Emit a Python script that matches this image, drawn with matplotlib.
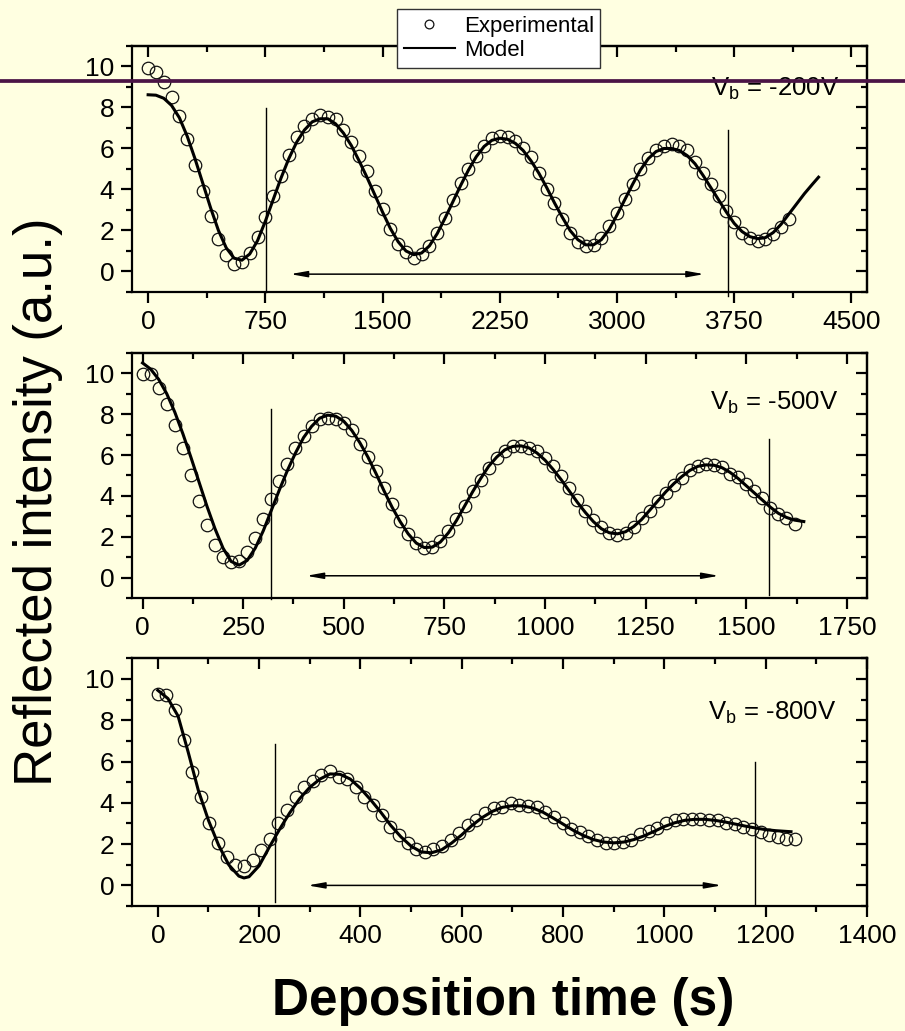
import matplotlib
matplotlib.use('Agg')
import matplotlib.pyplot as plt
from matplotlib.lines import Line2D
from matplotlib.ticker import MultipleLocator

# --- data ---
# panel 1, Vb = -200V
exp1_t = [0, 50, 100, 150, 200, 250, 300, 350, 400, 450, 500, 550, 600, 650, 700, 750, 800, 850, 900, 950,
          1000, 1050, 1100, 1150, 1200, 1250, 1300, 1350, 1400, 1450, 1500, 1550, 1600, 1650, 1700, 1750, 1800,
          1850, 1900, 1950, 2000, 2050, 2100, 2150, 2200, 2250, 2300, 2350, 2400, 2450, 2500, 2550, 2600, 2650,
          2700, 2750, 2800, 2850, 2900, 2950, 3000, 3050, 3100, 3150, 3200, 3250, 3300, 3350, 3400, 3450, 3500,
          3550, 3600, 3650, 3700, 3750, 3800, 3850, 3900, 3950, 4000, 4050, 4100]
exp1_y = [9.92, 9.73, 9.22, 8.51, 7.6, 6.48, 5.19, 3.95, 2.71, 1.57, 0.81, 0.36, 0.44, 0.92, 1.68, 2.67, 3.68,
          4.65, 5.7, 6.55, 7.08, 7.45, 7.65, 7.55, 7.45, 6.92, 6.3, 5.62, 4.89, 3.95, 3.03, 2.09, 1.36, 0.95,
          0.68, 0.84, 1.25, 1.9, 2.63, 3.47, 4.33, 4.98, 5.62, 6.11, 6.52, 6.63, 6.57, 6.35, 6.03, 5.59, 4.82,
          4.04, 3.32, 2.54, 1.9, 1.44, 1.25, 1.28, 1.65, 2.2, 2.87, 3.55, 4.29, 5.01, 5.54, 5.95, 6.14, 6.24,
          6.14, 5.95, 5.33, 4.82, 4.29, 3.68, 2.95, 2.41, 1.9, 1.65, 1.49, 1.57, 1.81, 2.17, 2.54]
mod1_t = [0, 50, 100, 150, 200, 250, 300, 350, 400, 450, 500, 550, 600, 650, 700, 750, 800, 850, 900, 950,
          1000, 1050, 1100, 1150, 1200, 1250, 1300, 1350, 1400, 1450, 1500, 1550, 1600, 1650, 1700, 1750, 1800,
          1850, 1900, 1950, 2000, 2050, 2100, 2150, 2200, 2250, 2300, 2350, 2400, 2450, 2500, 2550, 2600, 2650,
          2700, 2750, 2800, 2850, 2900, 2950, 3000, 3050, 3100, 3150, 3200, 3250, 3300, 3350, 3400, 3450, 3500,
          3550, 3600, 3650, 3700, 3750, 3800, 3850, 3900, 3950, 4000, 4050, 4100, 4150, 4200, 4250, 4290]
mod1_y = [8.62, 8.6, 8.45, 8.1, 7.5, 6.6, 5.5, 4.3, 3.1, 2.0, 1.15, 0.65, 0.55, 0.85, 1.5, 2.45, 3.5, 4.55,
          5.5, 6.3, 6.9, 7.3, 7.45, 7.45, 7.2, 6.75, 6.15, 5.4, 4.6, 3.75, 2.9, 2.1, 1.45, 1.0, 0.82, 0.9, 1.25,
          1.85, 2.6, 3.4, 4.2, 4.95, 5.6, 6.1, 6.4, 6.5, 6.45, 6.25, 5.9, 5.4, 4.8, 4.1, 3.35, 2.65, 2.0, 1.55,
          1.3, 1.3, 1.55, 2.05, 2.75, 3.5, 4.25, 4.95, 5.5, 5.85, 6.0, 6.0, 5.9, 5.65, 5.25, 4.7, 4.1, 3.5, 2.9,
          2.35, 1.95, 1.7, 1.6, 1.65, 1.9, 2.3, 2.8, 3.3, 3.8, 4.25, 4.6]

# panel 2, Vb = -500V
exp2_t = [0, 20, 40, 60, 80, 100, 120, 140, 160, 180, 200, 220, 240, 260, 280, 300, 320, 340, 360, 380, 400,
          420, 440, 460, 480, 500, 520, 540, 560, 580, 600, 620, 640, 660, 680, 700, 720, 740, 760, 780, 800,
          820, 840, 860, 880, 900, 920, 940, 960, 980, 1000, 1020, 1040, 1060, 1080, 1100, 1120, 1140, 1160,
          1180, 1200, 1220, 1240, 1260, 1280, 1300, 1320, 1340, 1360, 1380, 1400, 1420, 1440, 1460, 1480,
          1500, 1520, 1540, 1560, 1580, 1600, 1620]
exp2_y = [9.97, 9.97, 9.27, 8.51, 7.49, 6.35, 5.0, 3.75, 2.58, 1.59, 1.04, 0.75, 0.83, 1.24, 1.97, 2.86, 3.83,
          4.72, 5.57, 6.32, 6.95, 7.44, 7.76, 7.81, 7.76, 7.57, 7.24, 6.56, 5.91, 5.21, 4.4, 3.59, 2.78, 2.13,
          1.72, 1.48, 1.53, 1.8, 2.29, 2.86, 3.51, 4.24, 4.78, 5.38, 5.86, 6.19, 6.43, 6.43, 6.35, 6.22, 5.86,
          5.46, 4.97, 4.4, 3.78, 3.26, 2.81, 2.48, 2.21, 2.09, 2.2, 2.48, 2.91, 3.26, 3.75, 4.16, 4.56, 4.89,
          5.25, 5.46, 5.54, 5.5, 5.41, 5.09, 4.92, 4.6, 4.24, 3.92, 3.43, 3.14, 2.91, 2.65]
mod2_t = [0, 20, 40, 60, 80, 100, 120, 140, 160, 180, 200, 220, 240, 260, 280, 300, 320, 340, 360, 380, 400,
          420, 440, 460, 480, 500, 520, 540, 560, 580, 600, 620, 640, 660, 680, 700, 720, 740, 760, 780, 800,
          820, 840, 860, 880, 900, 920, 940, 960, 980, 1000, 1020, 1040, 1060, 1080, 1100, 1120, 1140, 1160,
          1180, 1200, 1220, 1240, 1260, 1280, 1300, 1320, 1340, 1360, 1380, 1400, 1420, 1440, 1460, 1480,
          1500, 1520, 1540, 1560, 1580, 1600, 1620, 1643]
mod2_y = [10.5, 10.2, 9.7, 9.0, 8.1, 7.05, 5.9, 4.7, 3.5, 2.4, 1.45, 0.8, 0.62, 0.85, 1.45, 2.3, 3.3, 4.3,
          5.25, 6.1, 6.85, 7.4, 7.8, 7.95, 7.9, 7.65, 7.2, 6.6, 5.9, 5.1, 4.25, 3.45, 2.75, 2.15, 1.7, 1.48,
          1.5, 1.75, 2.2, 2.8, 3.5, 4.2, 4.85, 5.45, 5.9, 6.25, 6.42, 6.45, 6.35, 6.1, 5.75, 5.3, 4.8, 4.25,
          3.7, 3.2, 2.75, 2.4, 2.2, 2.15, 2.25, 2.5, 2.85, 3.3, 3.75, 4.2, 4.6, 4.95, 5.25, 5.45, 5.52, 5.5,
          5.38, 5.15, 4.85, 4.5, 4.15, 3.8, 3.45, 3.15, 2.95, 2.82, 2.75]

# panel 3, Vb = -800V
exp3_t = [0, 17, 34, 51, 68, 85, 102, 119, 136, 153, 170, 187, 204, 221, 238, 255, 272, 289, 306, 323, 340,
          357, 374, 391, 408, 425, 442, 459, 476, 493, 510, 527, 544, 561, 578, 595, 612, 629, 646, 663, 680,
          697, 714, 731, 748, 765, 782, 799, 816, 833, 850, 867, 884, 901, 918, 935, 952, 969, 986, 1003, 1020,
          1037, 1054, 1071, 1088, 1105, 1122, 1139, 1156, 1173, 1190, 1207, 1224, 1241, 1258]
exp3_y = [9.29, 9.24, 8.51, 7.05, 5.48, 4.26, 3.03, 2.03, 1.38, 0.97, 0.92, 1.25, 1.7, 2.27, 3.0, 3.65, 4.29,
          4.78, 5.06, 5.35, 5.56, 5.24, 5.14, 4.75, 4.29, 3.89, 3.4, 2.83, 2.43, 2.06, 1.74, 1.62, 1.78, 1.9,
          2.22, 2.55, 2.92, 3.16, 3.52, 3.73, 3.78, 4.0, 3.89, 3.84, 3.81, 3.56, 3.3, 3.0, 2.71, 2.6, 2.4, 2.2,
          2.06, 2.04, 2.12, 2.22, 2.5, 2.62, 2.8, 3.0, 3.16, 3.24, 3.24, 3.24, 3.16, 3.16, 3.03, 2.97, 2.83,
          2.71, 2.59, 2.43, 2.35, 2.27, 2.27]
mod3_t = [0, 20, 40, 60, 80, 100, 120, 140, 160, 170, 180, 200, 220, 240, 260, 280, 300, 320, 340, 360, 380,
          400, 420, 440, 460, 480, 500, 520, 540, 560, 580, 600, 620, 640, 660, 680, 700, 720, 740, 760, 780,
          800, 820, 840, 860, 880, 900, 920, 940, 960, 980, 1000, 1020, 1040, 1060, 1080, 1100, 1120, 1140,
          1160, 1180, 1200, 1220, 1250]
mod3_y = [9.45, 9.05, 8.2, 6.45, 4.6, 3.15, 1.95, 1.0, 0.45, 0.36, 0.42, 0.95, 1.85, 2.7, 3.5, 4.2, 4.75,
          5.15, 5.4, 5.38, 5.15, 4.7, 4.15, 3.55, 2.9, 2.35, 1.9, 1.62, 1.58, 1.72, 2.05, 2.45, 2.9, 3.28,
          3.58, 3.78, 3.86, 3.85, 3.75, 3.55, 3.27, 2.97, 2.67, 2.42, 2.22, 2.1, 2.06, 2.1, 2.22, 2.4, 2.62,
          2.85, 3.03, 3.15, 3.2, 3.2, 3.15, 3.07, 2.97, 2.87, 2.78, 2.7, 2.65, 2.6]

bias_labels = ['-200V', '-500V', '-800V']
x_limits = [(-100, 4600), (-25, 1800), (-50, 1400)]
x_major = [750, 250, 200]
# vertical marker lines: (time, top of line, bottom of line)
cut_lines = [[(757, 7.97, -1.0), (3708, 6.9, -1.22)],
             [(318, 8.24, -1.04), (1556, 6.79, -0.83)],
             [(232, 6.84, -0.81), (1178, 6.0, -0.89)]]
# double arrows: (start, end, level)
arrows = [(910, 3558, -0.13), (407, 1432, 0.1), (296, 1113, 0.0)]

bg = '#ffffe1'
plt.rcParams['font.family'] = ['Liberation Sans', 'DejaVu Sans']
plt.rcParams['mathtext.fontset'] = 'custom'
plt.rcParams['mathtext.rm'] = 'Liberation Sans'
plt.rcParams['axes.linewidth'] = 1.6

fig = plt.figure(figsize=(9.05, 10.31), dpi=100, facecolor=bg)
boxes = [[0.1464, 0.7168, 0.8116, 0.2386],
         [0.1464, 0.4197, 0.8116, 0.2382],
         [0.1464, 0.1212, 0.8116, 0.2403]]
label_pos = [(0.962, 0.797), (0.961, 0.767), (0.958, 0.751)]

exp_sets = [(exp1_t, exp1_y), (exp2_t, exp2_y), (exp3_t, exp3_y)]
mod_sets = [(mod1_t, mod1_y), (mod2_t, mod2_y), (mod3_t, mod3_y)]

for i in range(3):
    ax = fig.add_axes(boxes[i])
    ax.set_facecolor(bg)
    et, ey = exp_sets[i]
    mt, my = mod_sets[i]
    ax.plot(et, ey, 'o', mfc='none', mec='#111111', mew=0.9, ms=9, label='Experimental', zorder=3)
    ax.plot(mt, my, '-', color='black', lw=2.2, label='Model', zorder=4)
    for (xc, ytop, ybot) in cut_lines[i]:
        ax.plot([xc, xc], [ybot, ytop], color='black', lw=1.0, clip_on=False, zorder=2)
    a0, a1, ay = arrows[i]
    ax.annotate('', xy=(a1, ay), xytext=(a0, ay),
                arrowprops=dict(arrowstyle='<|-|>,head_length=1.0,head_width=0.18', color='black',
                                lw=1.1, mutation_scale=10, shrinkA=0, shrinkB=0))
    ax.text(label_pos[i][0], label_pos[i][1], r'V$_{\rm b}$ = ' + bias_labels[i],
            transform=ax.transAxes, ha='right', va='baseline', fontsize=18.5)

    ax.set_xlim(x_limits[i])
    ax.set_ylim(-1, 11)
    ax.xaxis.set_major_locator(MultipleLocator(x_major[i]))
    ax.xaxis.set_minor_locator(MultipleLocator(x_major[i] / 2))
    ax.yaxis.set_major_locator(MultipleLocator(2))
    ax.yaxis.set_minor_locator(MultipleLocator(1))
    ax.tick_params(which='both', direction='out', top=False, right=False, width=1.6, labelsize=19, pad=5)
    ax.tick_params(which='major', length=8)
    ax.tick_params(which='minor', length=4.5)

    # top and right ticks point inwards
    sx = ax.secondary_xaxis('top')
    sx.xaxis.set_major_locator(MultipleLocator(x_major[i]))
    sx.xaxis.set_minor_locator(MultipleLocator(x_major[i] / 2))
    sx.tick_params(which='both', direction='in', labeltop=False, width=1.6)
    sx.tick_params(which='major', length=8)
    sx.tick_params(which='minor', length=4.5)
    sy = ax.secondary_yaxis('right')
    sy.yaxis.set_major_locator(MultipleLocator(2))
    sy.yaxis.set_minor_locator(MultipleLocator(1))
    sy.tick_params(which='both', direction='in', labelright=False, width=1.6)
    sy.tick_params(which='major', length=8)
    sy.tick_params(which='minor', length=4.5)

    if i == 0:
        handles, labels = ax.get_legend_handles_labels()
        leg = fig.legend(handles, labels, loc='upper left', bbox_to_anchor=(397 / 905, 1 - 9 / 1031),
                         fontsize=16, frameon=True, fancybox=False, framealpha=1, edgecolor='#333333',
                         borderpad=0.3, handlelength=2.3, handletextpad=0.4, labelspacing=0.15,
                         borderaxespad=0, markerscale=0.7)
        leg.get_frame().set_linewidth(1.0)
        leg.get_lines()[1].set_linewidth(1.5)
        leg.set_zorder(10)

fig.text(38 / 905, 1 - 502 / 1031, 'Reflected intensity (a.u.)', rotation=90, ha='center', va='center',
         fontsize=38)
fig.text(503 / 905, 1 - 1001 / 1031, 'Deposition time (s)', ha='center', va='center', fontsize=37,
         fontweight='bold')

# the dark purple rule running across the top panel
fig.add_artist(Line2D([0, 1], [1 - 80.5 / 1031, 1 - 80.5 / 1031], transform=fig.transFigure,
                      color='#4b1446', lw=2.7, zorder=20))

plt.savefig('out.png', dpi=100, facecolor=bg)
